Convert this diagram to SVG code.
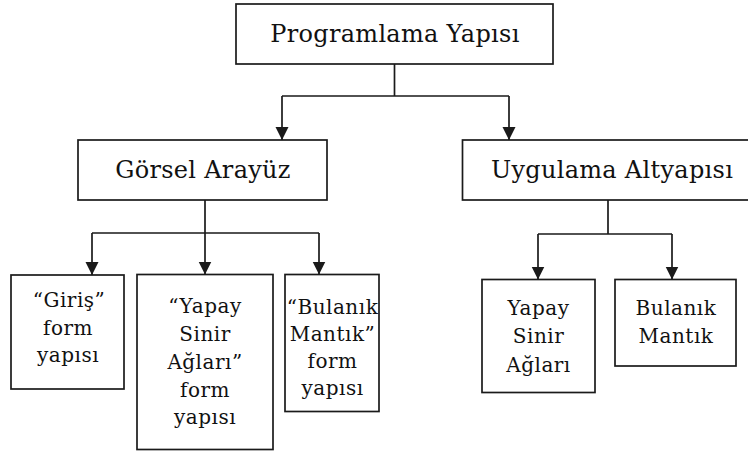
<svg xmlns="http://www.w3.org/2000/svg" width="748" height="453" viewBox="0 0 748 453">
  <style>
    .box { fill: #ffffff; stroke: #1a1a1a; stroke-width: 1.7; }
    .wire { fill: none; stroke: #1a1a1a; stroke-width: 1.7; }
    .arrow { fill: none; stroke: #1a1a1a; stroke-width: 1.7; marker-end: url(#head); }
    .big { font-size: 24px; letter-spacing: 0.3px; }
    .small { font-size: 20px; letter-spacing: 0.5px; }
  </style>
  <defs>
    <marker id="head" markerUnits="userSpaceOnUse" markerWidth="14" markerHeight="14" refX="13" refY="6.5" orient="auto" viewBox="0 0 14 14">
      <path d="M0,0 L13,6.5 L0,13 Z" fill="#1a1a1a"/>
    </marker>
  </defs>

  <rect width="748" height="453" fill="#ffffff"/>

  <!-- connectors -->
  <g id="connectors">
    <path class="wire" d="M394.5,64 V96 M282,96 H509"/>
    <path class="arrow" d="M282,96 V140"/>
    <path class="arrow" d="M509,96 V140"/>

    <path class="wire" d="M205,200 V233 M92,233 H319"/>
    <path class="arrow" d="M92,233 V275"/>
    <path class="arrow" d="M205,233 V274.5"/>
    <path class="arrow" d="M319,233 V274.5"/>

    <path class="wire" d="M608,200 V234 M538,234 H672"/>
    <path class="arrow" d="M538,234 V279.5"/>
    <path class="arrow" d="M672,234 V279.5"/>
  </g>

  <g font-family="'DejaVu Serif', serif" fill="#111111" text-anchor="middle">
    <!-- root -->
    <g id="programlama-yapisi">
      <rect class="box" x="236" y="4" width="317" height="60"/>
      <text class="big" x="395" y="42">Programlama Yapısı</text>
    </g>

    <!-- first level -->
    <g id="gorsel-arayuz">
      <rect class="box" x="78" y="140" width="249" height="60"/>
      <text class="big" x="203" y="178">Görsel Arayüz</text>
    </g>
    <g id="uygulama-altyapisi">
      <rect class="box" x="462.5" y="140" width="290" height="60"/>
      <text class="big" x="612" y="178">Uygulama Altyapısı</text>
    </g>

    <!-- interface forms -->
    <g id="giris-form">
      <rect class="box" x="11" y="275" width="113" height="114"/>
      <text class="small" x="69" y="307">“Giriş”</text>
      <text class="small" x="68" y="334.5">form</text>
      <text class="small" x="68" y="362">yapısı</text>
    </g>
    <g id="ysa-form">
      <rect class="box" x="137" y="274.5" width="136" height="175"/>
      <text class="small" x="205" y="313">“Yapay</text>
      <text class="small" x="205" y="341">Sinir</text>
      <text class="small" x="205" y="369">Ağları”</text>
      <text class="small" x="205" y="396.5">form</text>
      <text class="small" x="205" y="423.5">yapısı</text>
    </g>
    <g id="bulanik-form">
      <rect class="box" x="285" y="274.5" width="94" height="137"/>
      <text class="small" x="332.5" y="313.5">“Bulanık</text>
      <text class="small" x="332.5" y="340.5">Mantık”</text>
      <text class="small" x="332.5" y="368">form</text>
      <text class="small" x="332.5" y="395">yapısı</text>
    </g>

    <!-- infrastructure modules -->
    <g id="yapay-sinir-aglari">
      <rect class="box" x="482" y="279.5" width="113" height="113"/>
      <text class="small" x="538.5" y="315">Yapay</text>
      <text class="small" x="538.5" y="343">Sinir</text>
      <text class="small" x="538.5" y="371.5">Ağları</text>
    </g>
    <g id="bulanik-mantik">
      <rect class="box" x="615" y="279.5" width="121" height="86.5"/>
      <text class="small" x="676" y="314.5">Bulanık</text>
      <text class="small" x="676" y="342.5">Mantık</text>
    </g>
  </g>
</svg>
